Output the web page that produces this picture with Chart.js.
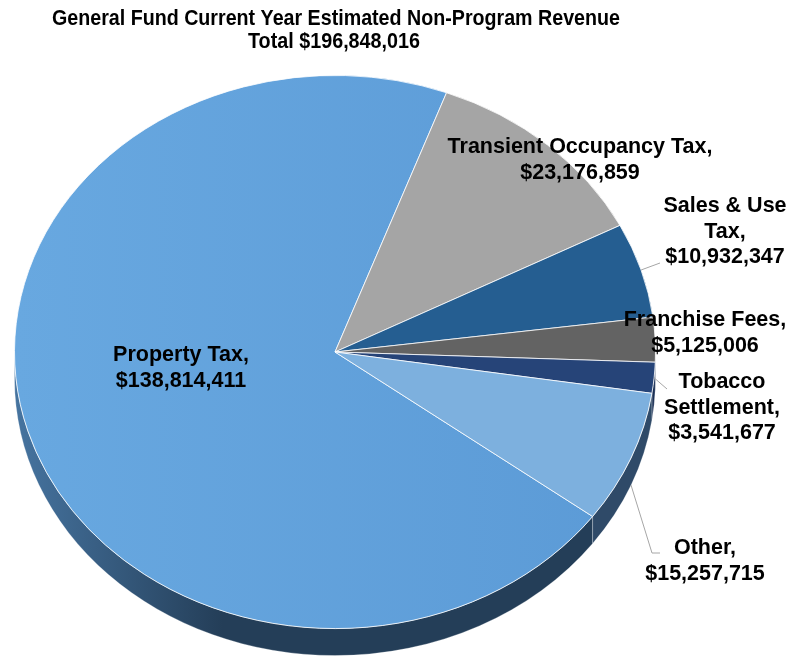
<!DOCTYPE html>
<html><head><meta charset="utf-8">
<script src="https://cdn.jsdelivr.net/npm/chart.js@4.4.1/dist/chart.umd.min.js"></script>
<style>html,body{margin:0;padding:0;background:#fff;}canvas{display:block;}</style>
</head><body>
<canvas id="c" width="794" height="660"></canvas>
<script>
// ---- data ----
const categories = ['Property Tax','Transient Occupancy Tax','Sales & Use Tax','Franchise Fees','Tobacco Settlement','Other'];
const revenues = [138814411, 23176859, 10932347, 5125006, 3541677, 15257715];
const valueLabels = ['$138,814,411','$23,176,859','$10,932,347','$5,125,006','$3,541,677','$15,257,715'];
const nameLines = [['Property Tax,'],['Transient Occupancy Tax,'],['Sales & Use','Tax,'],['Franchise Fees,'],['Tobacco','Settlement,'],['Other,']];
const titleLines = ['General Fund Current Year Estimated Non-Program Revenue','Total $196,848,016'];

// ---- styles / layout ----
const sliceColors = ['#62A1DB','#A5A5A5','#255E91','#636363','#264478','#7DB0DE'];
const sideColors = ['#243E58','#6B6B6B','#1A4369','#464646','#1B3055','#2F4A68'];
const K = 277/321;        // vertical squash of the pie face
const FACE_CY = 352;      // screen y of pie centre
const DEPTH = 27;         // screen px thickness of the pie
const labelPos = [
  {x:181, y:368},
  {x:580, y:160},
  {x:725, y:232, leader:[[660,263]]},
  {x:705, y:333},
  {x:722, y:408, leader:[[667,389]]},
  {x:705, y:561, leader:[[652,553],[660,553]], fromSide:true}
];
const LINE_H = 25.5;
const LABEL_FONT = 'bold 21.5px "Liberation Sans", Arial, sans-serif';
const TITLE_FONT = 'bold 22px "Liberation Sans", Arial, sans-serif';
const titleBoxes = [{x:336, y:19, w:568}, {x:334, y:42, w:172}];

function toScreenY(chart, y){
  const a = chart.chartArea; const cy = (a.top + a.bottom)/2;
  return FACE_CY + K*(y - cy);
}

const pie3d = {
  id: 'pie3d',
  beforeDatasetsDraw(chart){
    const ctx = chart.ctx; const a = chart.chartArea; const cy = (a.top + a.bottom)/2;
    ctx.save();
    ctx.translate(0, FACE_CY); ctx.scale(1, K); ctx.translate(0, -cy);
    const meta = chart.getDatasetMeta(0);
    const D = DEPTH / K;
    meta.data.forEach((arc, i) => {
      const p = arc.getProps(['x','y','startAngle','endAngle','outerRadius'], true);
      for (let off = -2*Math.PI; off <= 2*Math.PI + 1e-9; off += 2*Math.PI){
        const s = Math.max(p.startAngle + off, 0), e = Math.min(p.endAngle + off, Math.PI);
        if (e > s){
          ctx.beginPath();
          ctx.arc(p.x, p.y, p.outerRadius, s, e);
          ctx.arc(p.x, p.y + D, p.outerRadius, e, s, true);
          ctx.closePath();
          if (i === 0){
            const g = ctx.createLinearGradient(p.x - p.outerRadius, 0, p.x - p.outerRadius*0.35, 0);
            g.addColorStop(0, '#4674A0'); g.addColorStop(1, sideColors[0]);
            ctx.fillStyle = g;
          } else ctx.fillStyle = sideColors[i];
          ctx.fill();
          ctx.strokeStyle = 'rgba(255,255,255,0.35)'; ctx.lineWidth = 0.8; ctx.stroke();
        }
      }
    });
  },
  afterDatasetsDraw(chart){
    chart.ctx.restore();
  },
  afterDraw(chart){
    const ctx = chart.ctx;
    const meta = chart.getDatasetMeta(0);
    ctx.save();
    // title (condensed to the reference width)
    ctx.fillStyle = '#000'; ctx.textAlign = 'center'; ctx.textBaseline = 'middle';
    ctx.font = TITLE_FONT;
    titleLines.forEach((t, i) => {
      const b = titleBoxes[i];
      const w = ctx.measureText(t).width;
      ctx.save(); ctx.translate(b.x, b.y); ctx.scale(b.w / w, 1);
      ctx.fillText(t, 0, 0); ctx.restore();
    });
    // leaders
    ctx.strokeStyle = '#A6A6A6'; ctx.lineWidth = 1;
    meta.data.forEach((arc, i) => {
      const L = labelPos[i];
      if (!L.leader) return;
      const p = arc.getProps(['x','y','startAngle','endAngle','outerRadius'], true);
      const m = (p.startAngle + p.endAngle)/2;
      const sx = p.x + p.outerRadius*Math.cos(m);
      let sy = toScreenY(chart, p.y + p.outerRadius*Math.sin(m));
      if (L.fromSide) sy += DEPTH;
      ctx.beginPath(); ctx.moveTo(sx, sy);
      L.leader.forEach(pt => ctx.lineTo(pt[0], pt[1]));
      ctx.stroke();
    });
    // labels
    ctx.font = LABEL_FONT; ctx.fillStyle = '#000';
    categories.forEach((c, i) => {
      const lines = nameLines[i].concat([valueLabels[i]]);
      const L = labelPos[i];
      const y0 = L.y - (lines.length - 1)*LINE_H/2;
      lines.forEach((t, j) => ctx.fillText(t, L.x, y0 + j*LINE_H));
    });
    ctx.restore();
  }
};

new Chart(document.getElementById('c'), {
  type: 'pie',
  data: {
    labels: categories,
    datasets: [{
      data: revenues,
      backgroundColor: (c) => {
        if (c.dataIndex !== 0) return sliceColors[c.dataIndex];
        const g = c.chart.ctx.createLinearGradient(14, 0, 656, 0);
        g.addColorStop(0, '#68A8E0'); g.addColorStop(1, '#5B9AD6');
        return g;
      },
      borderColor: 'rgba(255,255,255,0.85)',
      borderWidth: 1,
      clip: false
    }]
  },
  options: {
    responsive: false,
    animation: false,
    events: [],
    rotation: 126.5,
    layout: { padding: { left: 14, right: 138, top: 9, bottom: 9 } },
    plugins: { legend: { display: false }, tooltip: { enabled: false }, title: { display: false } }
  },
  plugins: [pie3d]
});
</script>
</body></html>
